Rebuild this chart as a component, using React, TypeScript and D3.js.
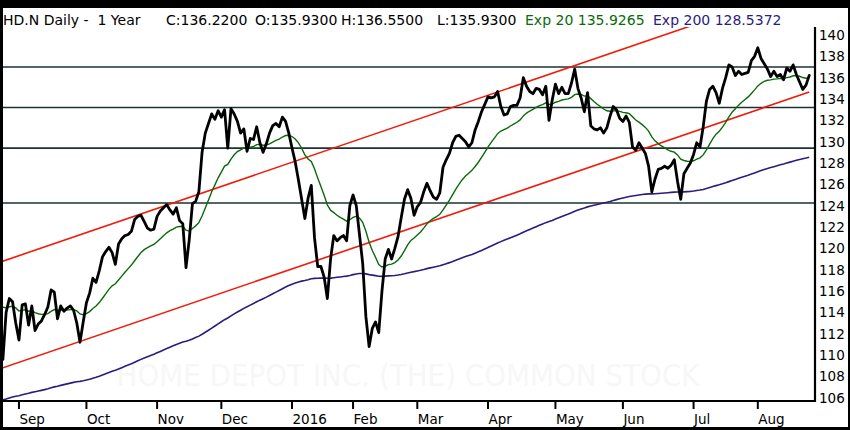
import React, { useMemo } from 'react';
import * as d3 from 'd3';

// Daily closes, HD.N, late Aug 2015 .. late Aug 2016 (trading-day index)
const closes: number[] = [
  109.6, 114.0, 115.3, 115.0, 113.0, 111.4, 114.7, 114.8, 112.8, 114.6,
  112.3, 112.9, 113.2, 113.8, 114.5, 116.1, 115.9, 113.4, 114.6, 114.1,
  114.4, 114.6, 114.2, 113.0, 111.2, 113.1, 114.9, 115.8, 117.2, 116.8,
  117.9, 119.2, 119.7, 120.1, 119.6, 118.5, 120.4, 120.9, 121.2, 121.3,
  121.6, 122.7, 123.0, 123.1, 122.5, 121.9, 121.7, 121.8, 123.0, 123.5,
  123.8, 124.1, 123.6, 123.2, 123.8, 122.6, 122.3, 118.2, 120.8, 124.2,
  124.4, 125.3, 129.0, 130.8, 131.7, 132.6, 132.1, 132.9, 132.3, 133.0,
  129.4, 133.1, 132.6, 131.9, 130.8, 131.2, 129.1, 130.3, 130.2, 131.4,
  129.9, 129.0, 129.8, 130.8, 131.5, 131.7, 131.4, 132.3, 131.9, 130.8,
  129.4, 128.1, 126.4, 124.6, 122.8, 124.7, 125.9, 121.0, 118.3, 118.3,
  117.3, 115.3, 119.0, 121.2, 120.7, 121.0, 121.2, 120.7, 124.0, 125.0,
  124.0, 121.3, 118.6, 113.6, 110.8, 112.5, 113.1, 112.1, 116.0, 119.0,
  119.9, 119.0, 120.0, 121.1, 122.9, 124.6, 125.5, 124.7, 123.1, 123.9,
  124.3, 125.3, 126.1, 125.4, 124.8, 124.6, 125.2, 127.6, 128.3, 128.9,
  129.9, 130.5, 130.6, 130.3, 130.0, 129.5, 129.9, 131.1, 131.9, 132.8,
  133.5, 134.2, 134.1, 134.2, 134.7, 133.3, 132.5, 132.6, 133.3, 133.4,
  133.4, 134.1, 136.0, 135.2, 134.7, 134.5, 135.0, 134.9, 134.4, 135.2,
  132.0, 133.9, 135.4, 134.5, 135.1, 134.5, 134.5, 135.5, 136.8, 135.0,
  134.1, 132.8, 134.6, 131.5, 131.2, 131.1, 131.3, 130.8, 131.3, 132.4,
  133.3, 133.0, 132.2, 131.9, 132.4, 131.8, 129.5, 129.2, 129.9, 129.4,
  128.9, 127.7, 125.3, 126.5, 127.4, 127.5, 127.7, 127.5, 127.8, 128.3,
  126.3, 124.6, 127.0, 127.5, 128.0, 128.8, 129.9, 129.5, 131.4, 133.8,
  134.9, 135.2, 134.6, 133.6, 135.0, 136.0, 137.2, 137.0, 136.2, 136.6,
  136.3, 136.4, 136.5, 137.6, 138.0, 138.8, 137.8, 137.3, 136.8, 136.1,
  136.6, 136.1, 136.3, 135.8, 136.9, 136.6, 137.2, 136.3, 135.6, 134.9,
  135.3, 136.22,
];

const monthLabels = ['Sep', 'Oct', 'Nov', 'Dec', '2016', 'Feb', 'Mar', 'Apr', 'May', 'Jun', 'Jul', 'Aug'];
const monthTickIndex = [5, 26, 48, 68, 90, 109, 129, 151, 172, 193, 215, 235];
const yTickValues = [106, 108, 110, 112, 114, 116, 118, 120, 122, 124, 126, 128, 130, 132, 134, 136, 138, 140];
const supportLevels = [137.0, 133.2, 129.4, 124.25];
const channelIndex = [0, 251];
const channelLower = [108.8, 134.65];
const channelUpper = [118.8, 144.65];
const ema20Seed = 115.0;
const ema200Seed = 105.76;

const headerTexts = [
  'HD.N Daily -  1 Year',
  'C:136.2200',
  'O:135.9300',
  'H:136.5500',
  'L:135.9300',
  'Exp 20 135.9265',
  'Exp 200 128.5372',
];
const watermark = 'HOME DEPOT INC. (THE) COMMON STOCK';

function ema(values: number[], period: number, seed: number): number[] {
  const a = 2 / (period + 1);
  const out: number[] = [];
  let prev = seed;
  for (const v of values) {
    prev = prev + a * (v - prev);
    out.push(prev);
  }
  return out;
}

export default function App() {
  const W = 850;
  const H = 430;
  const plotLeft = 3;
  const plotRight = 815;
  const plotTop = 27;
  const plotBottom = 401;

  const x = d3.scaleLinear().domain([0, 252.8]).range([2.9, plotRight]);
  const y = d3.scaleLinear().domain([106, 140]).range([397.7, 35]);

  const e20 = useMemo(() => ema(closes, 20, ema20Seed), []);
  const e200 = useMemo(() => ema(closes, 200, ema200Seed), []);

  const line = d3
    .line<number>()
    .x((_, i) => x(i))
    .y((d) => y(d));

  const chan = (vals: number[]) =>
    d3
      .line<number>()
      .x((_, i) => x(channelIndex[i]))
      .y((d) => y(d))(vals) || '';

  const headerX = [3, 166, 255, 341, 437, 525, 653];
  const headerColor = ['#000', '#000', '#000', '#000', '#000', '#0a6a0a', '#2b1c7e'];

  const font = '"DejaVu Sans", Verdana, sans-serif';

  return (
    <svg
      width={W}
      height={H}
      style={{ position: 'absolute', left: 0, top: 0, display: 'block' }}
      xmlns="http://www.w3.org/2000/svg"
    >
      <defs>
        <clipPath id="plotClip">
          <rect x={plotLeft} y={plotTop} width={plotRight - plotLeft} height={plotBottom - plotTop} />
        </clipPath>
      </defs>
      <rect x={0} y={0} width={W} height={H} fill="#000" />
      <rect x={3} y={8} width={845} height={419} fill="#fff" />

      {/* header */}
      {headerTexts.map((t, i) => (
        <text
          key={t}
          x={headerX[i]}
          y={25}
          fontFamily={font}
          fontSize={14}
          fill={headerColor[i]}
          style={{ whiteSpace: 'pre' }}
        >
          {t}
        </text>
      ))}

      {/* watermark */}
      <text
        x={408}
        y={386}
        textAnchor="middle"
        fontFamily='"DejaVu Sans Condensed", "DejaVu Sans", sans-serif'
        fontSize={31}
        fill="#f7f7f7"
        textLength={583}
        lengthAdjust="spacingAndGlyphs"
      >
        {watermark}
      </text>

      <g clipPath="url(#plotClip)">
        {supportLevels.map((v) => (
          <line
            key={v}
            x1={plotLeft}
            x2={plotRight}
            y1={y(v)}
            y2={y(v)}
            stroke="#1c3232"
            strokeWidth={1.6}
          />
        ))}
        <path d={chan(channelUpper)} fill="none" stroke="#f21a0a" strokeWidth={1.6} />
        <path d={chan(channelLower)} fill="none" stroke="#f21a0a" strokeWidth={1.6} />
        <path d={line(e200) || ''} fill="none" stroke="#2b1c7e" strokeWidth={1.6} />
        <path d={line(e20) || ''} fill="none" stroke="#0a6a0a" strokeWidth={1.4} />
        <path
          d={line(closes) || ''}
          fill="none"
          stroke="#000"
          strokeWidth={2.8}
          strokeLinejoin="round"
          strokeLinecap="round"
        />
      </g>

      {/* right axis */}
      <line x1={plotRight} x2={plotRight} y1={plotTop} y2={plotBottom + 1} stroke="#000" strokeWidth={2.2} />
      {yTickValues.map((v) => (
        <text
          key={v}
          x={819}
          y={y(v)}
          dominantBaseline="central"
          fontFamily={font}
          fontSize={13.5}
          fill="#000"
        >
          {v}
        </text>
      ))}

      {/* bottom axis */}
      <line x1={plotLeft} x2={plotRight + 1} y1={plotBottom} y2={plotBottom} stroke="#000" strokeWidth={2.2} />
      {monthTickIndex.map((idx, i) => (
        <g key={monthLabels[i]}>
          <line x1={x(idx)} x2={x(idx)} y1={plotBottom} y2={plotBottom + 8} stroke="#000" strokeWidth={2} />
          <text x={x(idx) + 0.5} y={424} fontFamily={font} fontSize={13.5} fill="#000">
            {monthLabels[i]}
          </text>
        </g>
      ))}
    </svg>
  );
}
